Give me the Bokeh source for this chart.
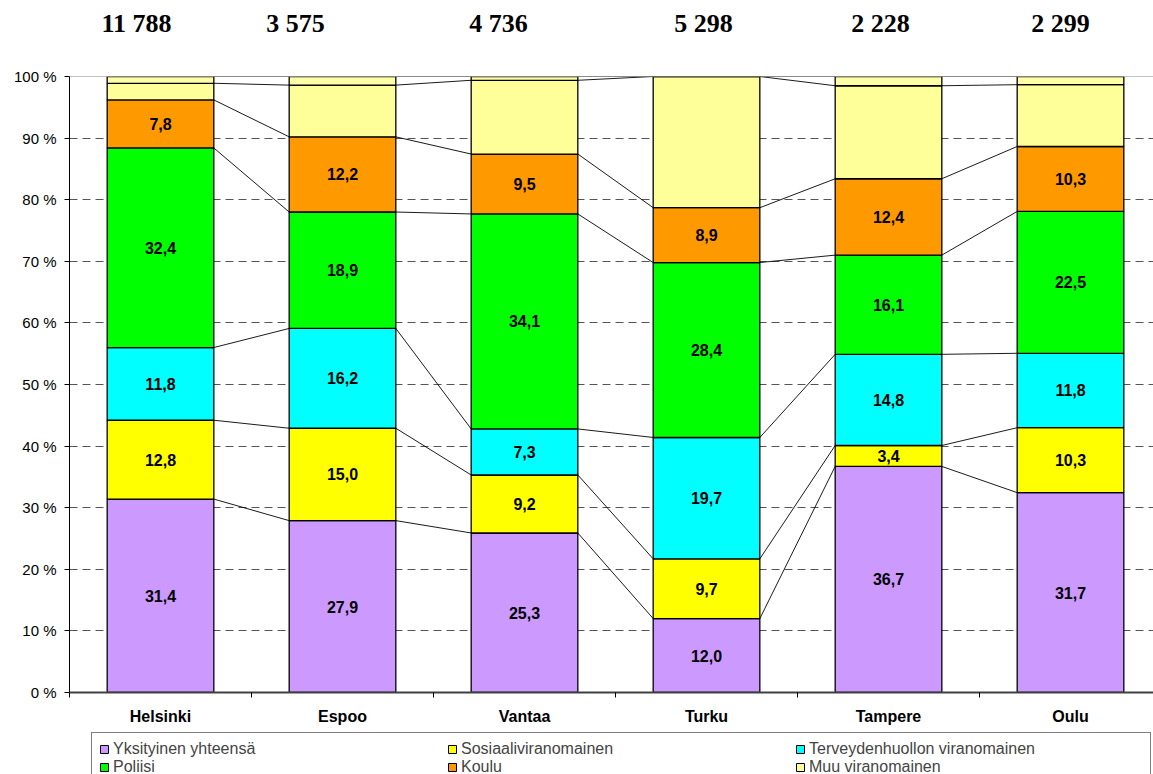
from bokeh.plotting import figure
from bokeh.layouts import column
from bokeh.models import Range1d, FixedTicker, Span, Legend, LegendItem, ColumnDataSource
from bokeh.core.properties import value
from bokeh.embed import file_html
from bokeh.resources import INLINE

# ---------------- data ----------------
cities = ["Helsinki", "Espoo", "Vantaa", "Turku", "Tampere", "Oulu"]
totals = [11788, 3575, 4736, 5298, 2228, 2299]
series_names = ["Yksityinen yhteensä", "Sosiaaliviranomainen",
                "Terveydenhuollon viranomainen", "Poliisi", "Koulu",
                "Muu viranomainen", "Muut ja tuntematon"]
yksityinen = [31.4, 27.9, 25.3, 12.0, 36.7, 31.7]
sosiaali = [12.8, 15.0, 9.2, 9.7, 3.4, 10.3]
terveys = [11.8, 16.2, 7.3, 19.7, 14.8, 11.8]
poliisi = [32.4, 18.9, 34.1, 28.4, 16.1, 22.5]
koulu = [7.8, 12.2, 9.5, 8.9, 12.4, 10.3]
muu = [2.7, 8.4, 11.7, 21.3, 15.1, 9.8]
muut = [1.1, 1.4, 0.6, 0.0, 1.5, 1.3]
y_ticks = [0, 10, 20, 30, 40, 50, 60, 70, 80, 90, 100]

# ---------------- styling / layout ----------------
colors = ["#CC99FF", "#FFFF00", "#00FFFF", "#00FF00", "#FF9900", "#FFFF99", "#FFFFA6"]
n_labelled = 5
bar_w = 0.586
count_dx = [-0.132, -0.258, -0.143, -0.016, -0.044, -0.055]
SANS = "Liberation Sans"
SERIF = "Liberation Serif"
W = 1153
LEFT = 69

series = [yksityinen, sosiaali, terveys, poliisi, koulu, muu, muut]
ncat = len(cities)
xs = [i + 1 for i in range(ncat)]
sums = [sum(s[i] for s in series) for i in range(ncat)]

x_range = Range1d(0.5, 6.456)

# ---------- top strip with totals ----------
t = figure(width=W, height=60, x_range=x_range, y_range=Range1d(0, 60),
           output_backend="svg", toolbar_location=None, x_axis_type=None, y_axis_type=None,
           min_border_left=LEFT, min_border_right=0, min_border_top=0, min_border_bottom=0,
           outline_line_color=None)
t.xgrid.visible = False
t.ygrid.visible = False
t.text(x=[xs[i] + count_dx[i] for i in range(ncat)], y=[37] * ncat,
       text=[f"{v:,}".replace(",", " ") for v in totals],
       text_font=value(SERIF), text_font_style="bold", text_font_size="26px",
       text_align="center", text_baseline="alphabetic", text_color="black")

# ---------- main chart ----------
p = figure(width=W, height=668, x_range=x_range, y_range=Range1d(0, 100),
           output_backend="svg", toolbar_location=None,
           min_border_left=LEFT, min_border_right=0, min_border_top=16, min_border_bottom=36,
           outline_line_color=None, background_fill_color="white")

p.xgrid.visible = False
p.ygrid.ticker = FixedTicker(ticks=y_ticks[1:-1])
p.ygrid.grid_line_color = "#555555"
p.ygrid.grid_line_dash = "8 5"
p.ygrid.grid_line_width = 1
p.add_layout(Span(location=y_ticks[-1], dimension="width", line_color="#888888", line_width=1.2))

cum = [0.0] * ncat
tops_per_series = []
for k, s in enumerate(series):
    pct = [s[i] / sums[i] * 100 for i in range(ncat)]
    bottoms = cum[:]
    tops = [bottoms[i] + pct[i] for i in range(ncat)]
    src = ColumnDataSource(dict(x=xs, bottom=bottoms, top=tops,
                                mid=[(bottoms[i] + tops[i]) / 2 for i in range(ncat)],
                                lab=[f"{s[i]:.1f}".replace(".", ",") for i in range(ncat)]))
    p.vbar(x="x", width=bar_w, bottom="bottom", top="top", source=src,
           fill_color=colors[k], line_color="black", line_width=1.3)
    if k < n_labelled:
        p.text(x="x", y="mid", text="lab", source=src, text_font=value(SANS),
               text_font_style="bold", text_font_size="16px", text_align="center",
               text_baseline="middle", text_color="black")
    tops_per_series.append(tops)
    cum = tops

# series lines between bars
x0, y0, x1, y1 = [], [], [], []
for tops in tops_per_series:
    for i in range(ncat - 1):
        x0.append(xs[i] + bar_w / 2)
        y0.append(tops[i])
        x1.append(xs[i + 1] - bar_w / 2)
        y1.append(tops[i + 1])
p.segment(x0=x0, y0=y0, x1=x1, y1=y1, line_color="black", line_width=0.9)

p.yaxis.ticker = FixedTicker(ticks=y_ticks)
p.yaxis.major_label_overrides = {tk: f"{tk} %" for tk in y_ticks}
p.yaxis.major_label_text_font = SANS
p.yaxis.major_label_text_font_size = "15px"
p.yaxis.major_label_text_color = "black"
p.yaxis.major_label_standoff = 8
p.yaxis.axis_line_color = "black"
p.yaxis.axis_line_width = 1
p.yaxis.major_tick_out = 5
p.yaxis.major_tick_in = 0
p.yaxis.major_tick_line_color = "black"
p.yaxis.minor_tick_line_color = None

p.xaxis.ticker = FixedTicker(ticks=xs, minor_ticks=[x - 0.5 for x in xs] + [xs[-1] + 0.5])
p.xaxis.major_label_overrides = {x: c for x, c in zip(xs, cities)}
p.xaxis.major_label_text_font = SANS
p.xaxis.major_label_text_font_style = "bold"
p.xaxis.major_label_text_font_size = "16px"
p.xaxis.major_label_text_color = "black"
p.xaxis.major_label_standoff = 10
p.xaxis.major_tick_out = 0
p.xaxis.major_tick_in = 0
p.xaxis.minor_tick_out = 5
p.xaxis.minor_tick_in = 0
p.xaxis.minor_tick_line_color = "black"
p.xaxis.axis_line_color = "#404040"
p.xaxis.axis_line_width = 2

# ---------- legend strip ----------
lg = figure(width=W, height=46, x_range=Range1d(0, 1), y_range=Range1d(0, 1),
            output_backend="svg", toolbar_location=None, x_axis_type=None, y_axis_type=None,
            min_border_left=LEFT, min_border_right=0, min_border_top=0, min_border_bottom=0,
            outline_line_color=None)
lg.xgrid.visible = False
lg.ygrid.visible = False
items = []
for k in range(len(series)):
    r = lg.vbar(x=[-10], top=[0], bottom=[0], width=0.1, fill_color=colors[k],
                line_color="black", line_width=1)
    items.append(LegendItem(label=series_names[k], renderers=[r]))
legend = Legend(items=items, location=(22, -28), orientation="horizontal", ncols=3,
                glyph_width=10, glyph_height=10, label_standoff=4, label_width=334,
                spacing=0, padding=7, border_line_color="black", border_line_width=1,
                label_text_font=SANS, label_text_font_size="16px", label_height=15,
                background_fill_color="white", background_fill_alpha=1)
lg.add_layout(legend)

layout = column(t, p, lg, spacing=0)
open("out.html", "w").write(file_html(layout, INLINE))
